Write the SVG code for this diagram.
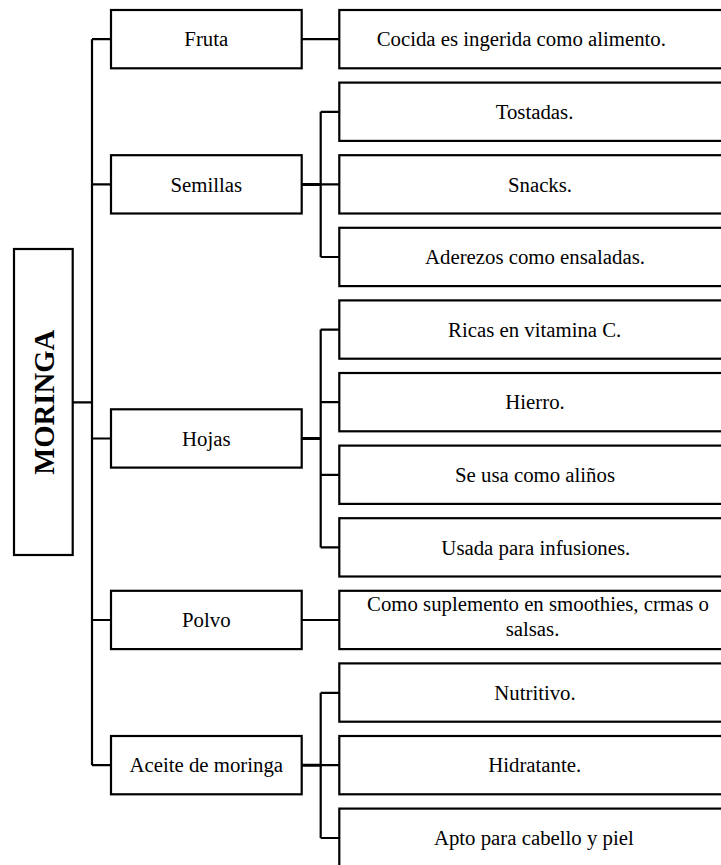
<svg xmlns="http://www.w3.org/2000/svg" width="721" height="865" viewBox="0 0 721 865">
<style>
.box{fill:#fff;stroke:#000;stroke-width:2.2}
.t{font-family:"Liberation Serif","Times New Roman",serif;font-size:20.8px;fill:#000;text-anchor:middle}
.tb{font-family:"Liberation Serif","Times New Roman",serif;font-size:28.7px;font-weight:bold;fill:#000;text-anchor:middle}
.c{fill:none;stroke:#000;stroke-width:2.2}
.ck{fill:none;stroke:#000;stroke-width:3}
</style>
<rect width="721" height="865" fill="#fff"/>
<g id="connectors">
<path class="c" d="M72.7 402.3H92M92 39.2V765.2M92 39.2H111M92 184.4H111M92 438.5H111M92 620H111M92 765.2H111"/>
<path class="c" d="M301.7 39.2H339.3M301.7 620H339.3"/>
<path class="ck" d="M301.7 184.4H320.7M301.7 438.5H320.7M301.7 765.2H320.7"/>
<path class="c" d="M320.7 111.8V257M320.7 111.8H339.3M320.7 184.4H339.3M320.7 257H339.3"/>
<path class="c" d="M320.7 329.6V547.4M320.7 329.6H339.3M320.7 402.2H339.3M320.7 474.8H339.3M320.7 547.4H339.3"/>
<path class="c" d="M320.7 692.8V838M320.7 692.8H339.3M320.7 765.2H339.3M320.7 838H339.3"/>
</g>
<g id="moringa"><rect class="box" x="14" y="249" width="58.7" height="306"/><text class="tb" transform="translate(53.5 402.3) rotate(-90)" x="0" y="0">MORINGA</text></g>
<g id="fruta"><rect class="box" x="111" y="10" width="190.7" height="58.3"/><text class="t" x="206.3" y="46.4">Fruta</text></g>
<g id="semillas"><rect class="box" x="111" y="155.2" width="190.7" height="58.3"/><text class="t" x="206.3" y="191.6">Semillas</text></g>
<g id="hojas"><rect class="box" x="111" y="409.3" width="190.7" height="58.3"/><text class="t" x="206.3" y="445.7">Hojas</text></g>
<g id="polvo"><rect class="box" x="111" y="590.8" width="190.7" height="58.3"/><text class="t" x="206.3" y="627.2">Polvo</text></g>
<g id="aceite"><rect class="box" x="111" y="736" width="190.7" height="58.3"/><text class="t" x="206.3" y="772.4">Aceite de moringa</text></g>
<g id="cocida"><rect class="box" x="339.3" y="10" width="400" height="58.3"/><text class="t" x="521.3" y="46.4">Cocida es ingerida como alimento.</text></g>
<g id="tostadas"><rect class="box" x="339.3" y="82.6" width="400" height="58.3"/><text class="t" x="534.5" y="119">Tostadas.</text></g>
<g id="snacks"><rect class="box" x="339.3" y="155.2" width="400" height="58.3"/><text class="t" x="540" y="191.6">Snacks.</text></g>
<g id="aderezos"><rect class="box" x="339.3" y="227.8" width="400" height="58.3"/><text class="t" x="535" y="264.2">Aderezos como ensaladas.</text></g>
<g id="ricas"><rect class="box" x="339.3" y="300.4" width="400" height="58.3"/><text class="t" x="534.7" y="336.8">Ricas en vitamina C.</text></g>
<g id="hierro"><rect class="box" x="339.3" y="373" width="400" height="58.3"/><text class="t" x="535" y="409.4">Hierro.</text></g>
<g id="seusa"><rect class="box" x="339.3" y="445.6" width="400" height="58.3"/><text class="t" x="535" y="482">Se usa como aliños</text></g>
<g id="usada"><rect class="box" x="339.3" y="518.2" width="400" height="58.3"/><text class="t" x="535.8" y="554.6">Usada para infusiones.</text></g>
<g id="suplemento"><rect class="box" x="339.3" y="590.8" width="400" height="58.3"/><text class="t" x="538" y="611">Como suplemento en smoothies, crmas o</text><text class="t" x="532.5" y="635.5">salsas.</text></g>
<g id="nutritivo"><rect class="box" x="339.3" y="663.4" width="400" height="58.3"/><text class="t" x="535" y="699.8">Nutritivo.</text></g>
<g id="hidratante"><rect class="box" x="339.3" y="736" width="400" height="58.3"/><text class="t" x="534.7" y="772.4">Hidratante.</text></g>
<g id="apto"><rect class="box" x="339.3" y="808.6" width="400" height="58.3"/><text class="t" x="533.8" y="845">Apto para cabello y piel</text></g>
</svg>
